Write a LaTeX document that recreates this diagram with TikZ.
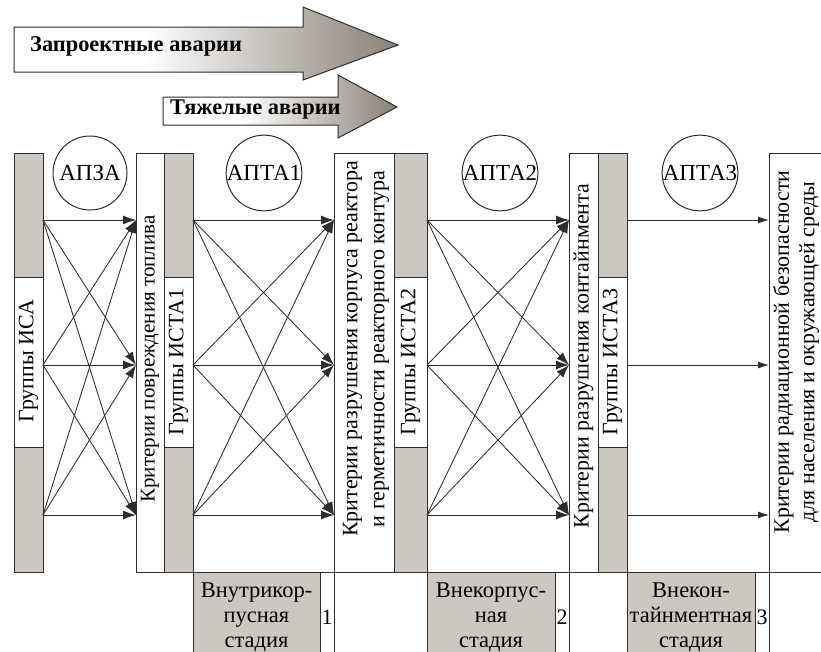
\documentclass[tikz,border=0pt]{standalone}
\usepackage{fontspec}
\setmainfont{Liberation Serif}
\newfontfamily\tms{Liberation Serif}
\usetikzlibrary{arrows.meta,calc}
\definecolor{bargray}{RGB}{205,199,193}
\definecolor{edge}{RGB}{45,45,45}
\definecolor{arrowdark}{RGB}{138,128,118}
\pgfdeclarehorizontalshading{arrowshade}{100bp}{color(0bp)=(white); color(25bp)=(white); color(42bp)=(white); color(75bp)=(arrowdark); color(100bp)=(arrowdark)}
\newcommand{\fsz}[2]{\tms\fontsize{#1}{#2}\selectfont}
\begin{document}
\begin{tikzpicture}[x=1pt,y=-1pt,
  bar/.style={draw=edge, line width=1.1pt, fill=bargray, inner sep=0pt, anchor=north west},
  wbox/.style={draw=edge, line width=1.1pt, fill=white, inner sep=0pt, anchor=north west},
  vtext/.style={rotate=90, inner sep=0pt, align=center, font=\fsz{22}{27}},
  circ/.style={draw=edge, line width=1pt, circle, minimum size=74pt, inner sep=0pt, font=\fsz{23}{24}},
  link/.style={draw=edge, line width=0.85pt, -{Latex[length=13pt,width=9pt]}},
  slink/.style={draw=edge, line width=0.85pt, -{Latex[length=11pt,width=7pt]}},
  stage/.style={draw=edge, line width=1.1pt, fill=bargray, inner sep=0pt, anchor=north west, minimum height=90pt},
  numbox/.style={draw=edge, line width=1.1pt, fill=white, inner sep=0pt, anchor=north west, minimum height=90pt, minimum width=14pt},
  stagetext/.style={align=center, font=\fsz{22.5}{25}, inner sep=0pt},
  numtext/.style={inner sep=0pt, font=\fsz{22}{24}},
  bigarrow/.style={draw=edge, line width=1pt, shading=arrowshade, shading angle=0},
  arrowtext/.style={font=\tms\bfseries\fontsize{22.4}{24}\selectfont, anchor=west, inner sep=0pt}
]
\useasboundingbox (0,0) rectangle (821,651);

% top gradient arrows
\path[bigarrow] (14,27) -- (303,27) -- (303,7) -- (398,45) -- (303,80) -- (303,72) -- (14,72) -- cycle;
\node[arrowtext] (zap) at (30,46) {Запроектные аварии};
\path[bigarrow] (163,97) -- (338,97) -- (338,75) -- (397,107) -- (338,138) -- (338,125) -- (163,125) -- cycle;
\node[arrowtext] (tyazh) at (170,110) {Тяжелые аварии};

% columns
\node[bar, minimum width=29pt, minimum height=419pt] (isa) at (14,153) {};
\node[wbox, minimum width=29pt, minimum height=170pt] (isaw) at (14,277) {};
\node[vtext] (isat) at (28.5,361) {Группы ИСА};

\node[wbox, minimum width=28pt, minimum height=419pt] (k1) at (136,153) {};
\node[vtext, font=\fsz{21}{26}] (k1t) at (150,359) {Критерии повреждения топлива};
\node[bar, minimum width=29pt, minimum height=419pt] (ista1) at (164,153) {};
\node[wbox, minimum width=29pt, minimum height=170pt] (ista1w) at (164,277) {};
\node[vtext] (ista1t) at (178.5,362) {Группы ИСТА1};

\node[wbox, minimum width=60pt, minimum height=419pt] (k2) at (334,153) {};
\node[vtext] (k2t) at (366,349) {Критерии разрушения корпуса реактора\\и герметичности реакторного контура};
\node[bar, minimum width=33pt, minimum height=419pt] (ista2) at (394,153) {};
\node[wbox, minimum width=33pt, minimum height=170pt] (ista2w) at (394,277) {};
\node[vtext] (ista2t) at (410.5,362) {Группы ИСТА2};

\node[wbox, minimum width=29pt, minimum height=419pt] (k3) at (569,153) {};
\node[vtext] (k3t) at (583.5,356) {Критерии разрушения контайнмента};
\node[bar, minimum width=29pt, minimum height=419pt] (ista3) at (598,153) {};
\node[wbox, minimum width=29pt, minimum height=170pt] (ista3w) at (598,277) {};
\node[vtext] (ista3t) at (612.5,362) {Группы ИСТА3};

\node[wbox, minimum width=70pt, minimum height=419pt] (k4) at (769,153) {};
\node[vtext, font=\fsz{22}{25.5}] (k4t) at (796,352) {Критерии радиационной безопасности\\для населения и окружающей среды};

% circles
\node[circ] (apza) at (90,173) {АПЗА};
\node[circ] (apta1) at (264,173) {АПТА1};
\node[circ] (apta2) at (500,173) {АПТА2};
\node[circ] (apta3) at (700,173) {АПТА3};

% connection points
\foreach \r/\y in {1/220,2/365,3/515}{
  \coordinate (sa\r) at (43,\y);  \coordinate (ta\r) at (136,\y);
  \coordinate (sb\r) at (193,\y); \coordinate (tb\r) at (334,\y);
  \coordinate (sc\r) at (427,\y); \coordinate (tc\r) at (569,\y);
  \coordinate (sd\r) at (627,\y); \coordinate (td\r) at (769,\y);
}
\foreach \i in {1,2,3}{
  \foreach \j in {1,2,3}{
    \draw[link] (sa\i) -- (ta\j);
    \draw[link] (sb\i) -- (tb\j);
    \draw[link] (sc\i) -- (tc\j);
  }
  \draw[slink] (sd\i) -- (td\i);
}

% stages
\node[stage, minimum width=127pt] (st1) at (193,572) {};
\node[numbox] (n1) at (320,572) {};
\node[stagetext] (st1t) at (256.5,617) {Внутрикор-\\пусная\\стадия};
\node[numtext] (n1t) at (327,617) {1};

\node[stage, minimum width=128pt] (st2) at (427,572) {};
\node[numbox] (n2) at (555,572) {};
\node[stagetext] (st2t) at (491,617) {Внекорпус-\\ная\\стадия};
\node[numtext] (n2t) at (562,617) {2};

\node[stage, minimum width=128pt] (st3) at (627,572) {};
\node[numbox] (n3) at (755,572) {};
\node[stagetext] (st3t) at (691,617) {Внекон-\\тайнментная\\стадия};
\node[numtext] (n3t) at (762,617) {3};
\end{tikzpicture}
\end{document}
